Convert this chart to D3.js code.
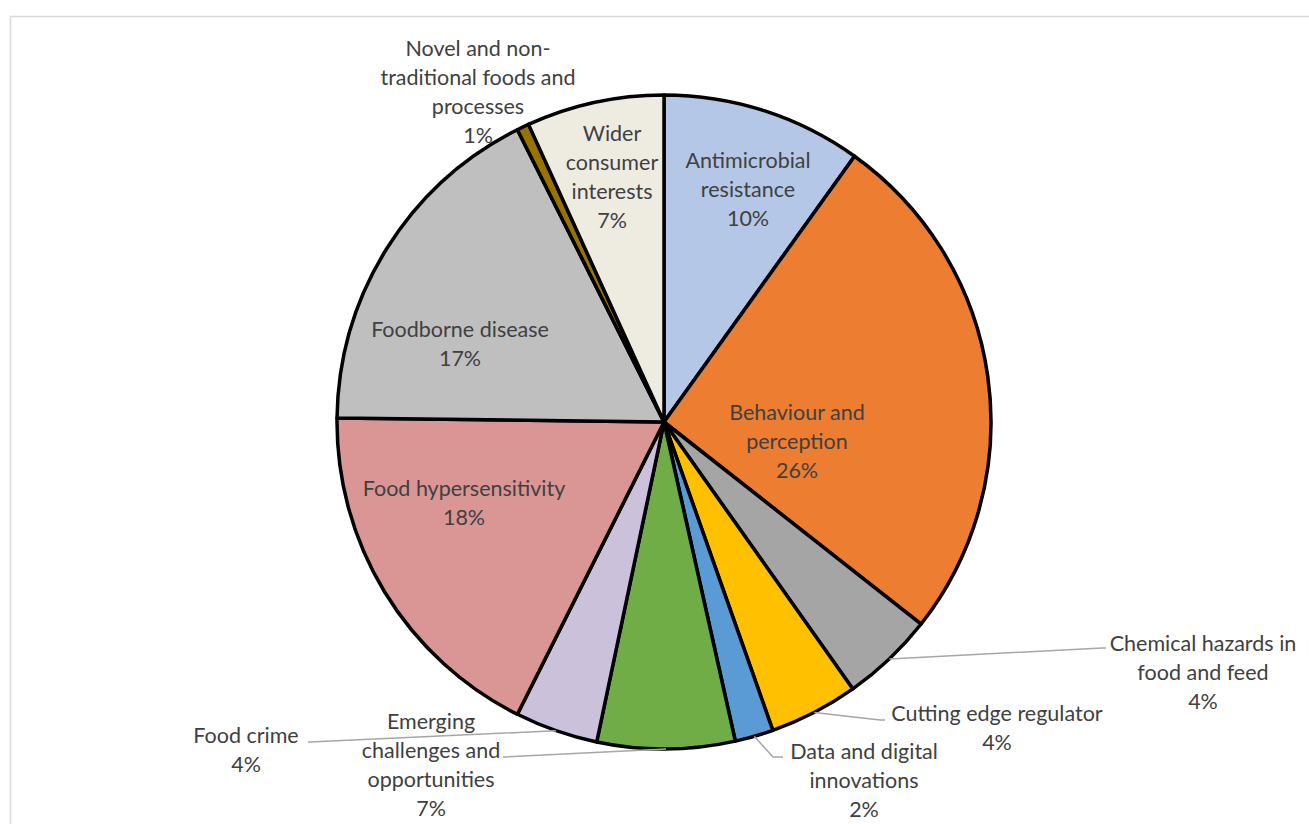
<!DOCTYPE html>
<html lang="en">
<head>
  <meta charset="UTF-8">
  <title>Research topics pie</title>
  <script src="https://d3js.org/d3.v7.min.js"></script>
  <style>
    body { margin: 0; background: #fff; }
    text { font-family: Lato, "Open Sans", sans-serif; font-size: 21.5px; fill: #404040; }
  </style>
</head>
<body>
  <svg id="chart" width="1309" height="824"></svg>
  <script>
    // slice data, clockwise from 12 o'clock
    const categories = [
      "Antimicrobial resistance", "Behaviour and perception", "Chemical hazards in food and feed",
      "Cutting edge regulator", "Data and digital innovations", "Emerging challenges and opportunities",
      "Food crime", "Food hypersensitivity", "Foodborne disease",
      "Novel and non-traditional foods and processes", "Wider consumer interests"
    ];
    const values = [9.9, 25.7, 4.6, 4.4, 1.9, 6.8, 4.1, 17.8, 17.4, 0.6, 6.8];
    const percentLabels = ["10%", "26%", "4%", "4%", "2%", "7%", "4%", "18%", "17%", "1%", "7%"];
    // how the category names wrap in the picture
    const labelLines = [
      ["Antimicrobial", "resistance"],
      ["Behaviour and", "perception"],
      ["Chemical hazards in", "food and feed"],
      ["Cutting edge regulator"],
      ["Data and digital", "innovations"],
      ["Emerging", "challenges and", "opportunities"],
      ["Food crime"],
      ["Food hypersensitivity"],
      ["Foodborne disease"],
      ["Novel and non-", "traditional foods and", "processes"],
      ["Wider", "consumer", "interests"]
    ];
    const colors = ["#B4C7E7", "#ED7D31", "#A5A5A5", "#FFC000", "#5B9BD5", "#70AD47",
                    "#CCC1DA", "#DA9694", "#BFBFBF", "#997300", "#EEECE1"];

    const svg = d3.select("#chart");
    const cx = 664, cy = 422, r = 327, lh = 29;

    // chart area border
    svg.append("rect")
      .attr("x", 10.5).attr("y", 16.5).attr("width", 1310).attr("height", 830)
      .attr("fill", "none").attr("stroke", "#D9D9D9").attr("stroke-width", 1.5);

    const data = categories.map((c, i) => ({ name: c, value: values[i], pct: percentLabels[i], lines: labelLines[i], color: colors[i] }));
    const pie = d3.pie().value(d => d.value).sort(null);
    const arc = d3.arc().innerRadius(0).outerRadius(r);
    const arcs = pie(data);

    const g = svg.append("g").attr("transform", `translate(${cx},${cy})`);

    g.selectAll("path.slice")
      .data(arcs)
      .enter().append("path")
      .attr("class", "slice")
      .attr("d", arc)
      .attr("fill", d => d.data.color)
      .attr("stroke", "#000")
      .attr("stroke-width", 3.5)
      .attr("stroke-linejoin", "round");

    // label placement relative to centre; outside labels get a leader line
    const place = [
      { x: 84, y: -262 },
      { x: 133, y: -10 },
      { x: 539, y: 221, elbow: [438, 226], end: [442, 226] },
      { x: 333, y: 291, elbow: [216, 298], end: [221, 298] },
      { x: 200, y: 329, elbow: [109, 335], end: [119, 335] },
      { x: -233, y: 299, elbow: [-159, 335], end: [-161, 335] },
      { x: -418, y: 313, elbow: [-354, 320], end: [-356, 320] },
      { x: -200, y: 66 },
      { x: -204, y: -93 },
      { x: -186, y: -374 },
      { x: -52, y: -289 }
    ];

    const pointAt = (a, rad) => [rad * Math.sin(a), -rad * Math.cos(a)];

    arcs.forEach((d, i) => {
      const p = place[i];
      if (p.elbow) {
        const mid = (d.startAngle + d.endAngle) / 2;
        const s = pointAt(mid, r);
        g.append("polyline")
          .attr("points", [s, p.elbow, p.end].map(q => q.join(",")).join(" "))
          .attr("fill", "none").attr("stroke", "#A6A6A6").attr("stroke-width", 1.5);
      }
      const lines = d.data.lines.concat([d.data.pct]);
      const t = g.append("text")
        .attr("text-anchor", "middle")
        .attr("dominant-baseline", "central");
      lines.forEach((ln, k) => {
        t.append("tspan").attr("x", p.x).attr("y", p.y + k * lh).text(ln);
      });
    });
  </script>
</body>
</html>
